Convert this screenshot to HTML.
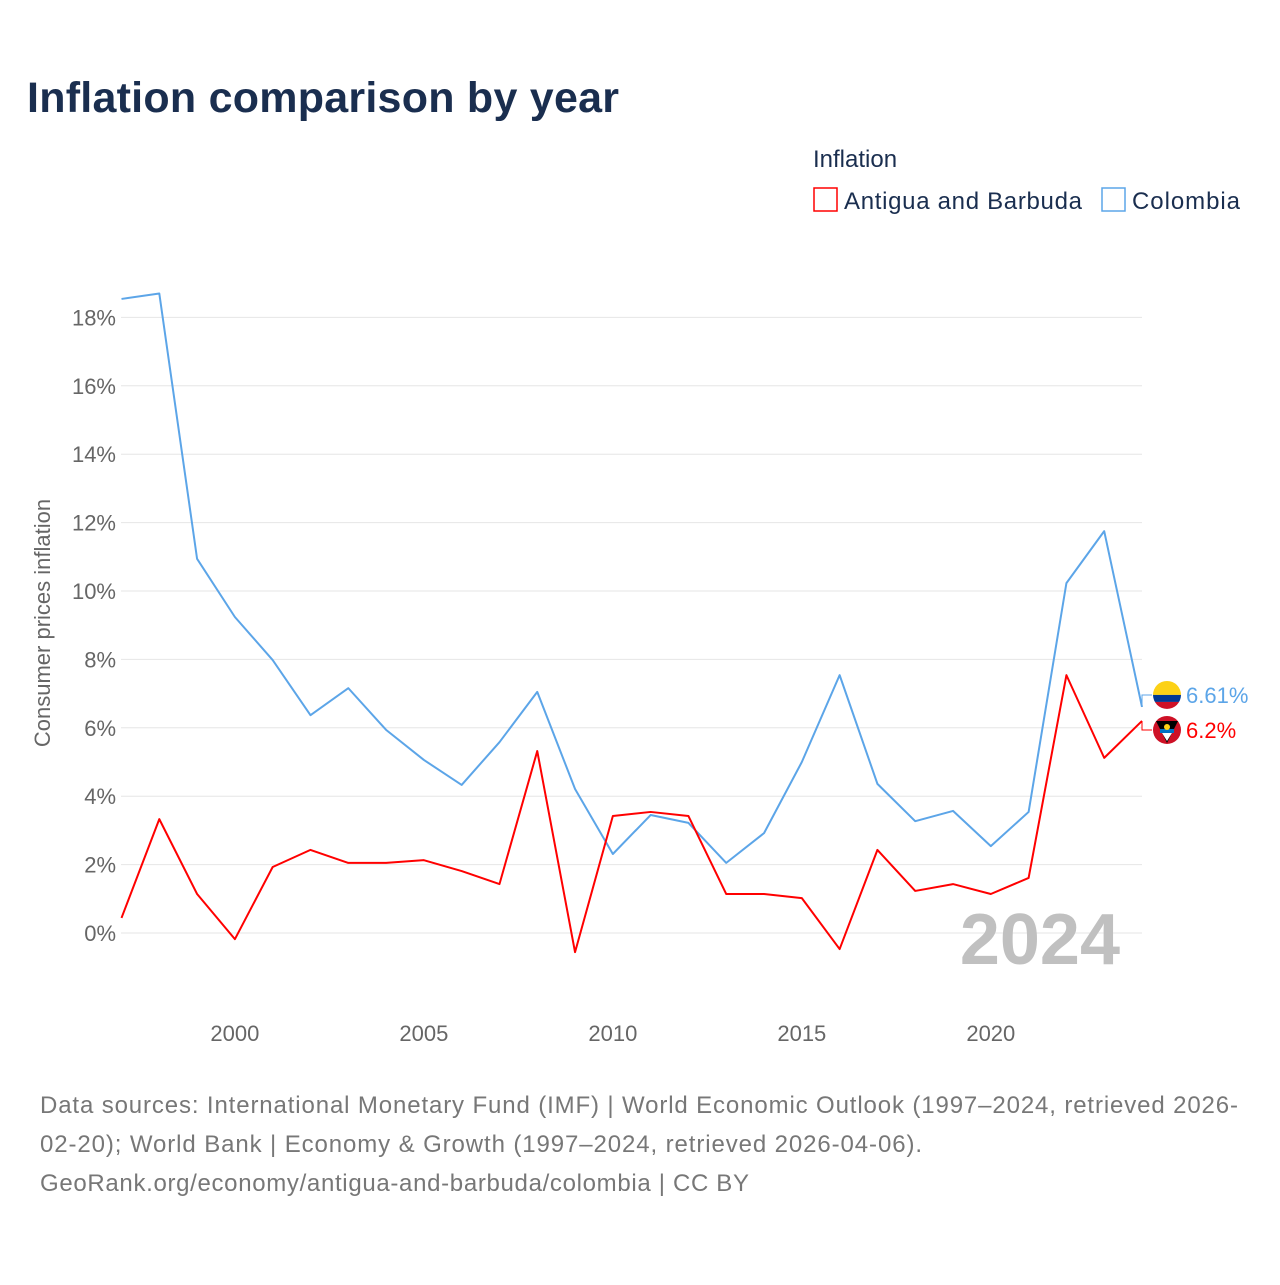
<!DOCTYPE html>
<html><head><meta charset="utf-8"><style>
body{margin:0;background:#fff;font-family:"Liberation Sans",sans-serif}
svg text{font-family:"Liberation Sans",sans-serif}
</style></head><body>
<svg id="chart" width="1280" height="1280" viewBox="0 0 1280 1280">
<text x="27" y="112" font-size="43" font-weight="bold" fill="#1a2e4f" textLength="592">Inflation comparison by year</text>
<text x="813" y="167" font-size="24" fill="#1a2e4f">Inflation</text>
<g><rect x="814" y="188" width="23" height="23" fill="none" stroke="#f00" stroke-width="1.5"/><text x="844" y="209" font-size="24" fill="#1a2e4f" textLength="238">Antigua and Barbuda</text></g>
<g><rect x="1102" y="188" width="23" height="23" fill="none" stroke="#5ca5e8" stroke-width="1.5"/><text x="1132" y="209" font-size="24" fill="#1a2e4f" textLength="108">Colombia</text></g>
<text transform="translate(50,623) rotate(-90)" text-anchor="middle" font-size="22" fill="#666">Consumer prices inflation</text>
<g id="grid"></g><g id="yt"></g><g id="xt"></g>
<text x="1120" y="964" text-anchor="end" font-size="72" font-weight="bold" fill="#c0c0c0">2024</text>
<g id="series"></g>
<text x="40" y="1113" font-size="24" fill="#777" textLength="1198">Data sources: International Monetary Fund (IMF) | World Economic Outlook (1997–2024, retrieved 2026-</text>
<text x="40" y="1152" font-size="24" fill="#777" textLength="882">02-20); World Bank | Economy &amp; Growth (1997–2024, retrieved 2026-04-06).</text>
<text x="40" y="1191" font-size="24" fill="#777" textLength="709">GeoRank.org/economy/antigua-and-barbuda/colombia | CC BY</text>
</svg>
<script>
const years=[1997,1998,1999,2000,2001,2002,2003,2004,2005,2006,2007,2008,2009,2010,2011,2012,2013,2014,2015,2016,2017,2018,2019,2020,2021,2022,2023,2024];
const colombia=[18.54,18.7,10.94,9.24,7.98,6.37,7.16,5.94,5.06,4.33,5.58,7.05,4.21,2.31,3.45,3.22,2.05,2.92,5.0,7.54,4.36,3.27,3.57,2.54,3.54,10.23,11.75,6.61];
const antigua=[0.44,3.33,1.14,-0.18,1.93,2.43,2.05,2.05,2.13,1.81,1.43,5.32,-0.56,3.42,3.54,3.42,1.14,1.14,1.02,-0.47,2.43,1.23,1.43,1.14,1.61,7.54,5.12,6.2];
const yTicks=[0,2,4,6,8,10,12,14,16,18];
const xTicks=[2000,2005,2010,2015,2020];
const NS='http://www.w3.org/2000/svg';
const X=y=>121.5+(y-1997)*(1142-121.5)/27;
const Y=v=>933-v*34.2;
function mk(t,a,p){const e=document.createElementNS(NS,t);for(const k in a)e.setAttribute(k,a[k]);p.appendChild(e);return e;}
const grid=document.getElementById('grid'),yt=document.getElementById('yt'),xt=document.getElementById('xt'),ser=document.getElementById('series');
yTicks.forEach(v=>{
 const l=mk('line',{x1:121,x2:1142,y1:Y(v),y2:Y(v),stroke:'#e6e6e6','stroke-width':1},grid);
 
 
 const t=mk('text',{x:116,y:Y(v)+8,'text-anchor':'end','font-size':22,fill:'#666'},yt);
 t.textContent=v+'%';
 
 
});
xTicks.forEach(v=>{
 const t=mk('text',{x:X(v),y:1041,'text-anchor':'middle','font-size':22,fill:'#666'},xt);
 t.textContent=v;
 
 
});
function line(vals,color,name){
 const p=mk('polyline',{points:vals.map((v,i)=>X(years[i])+','+Y(v)).join(' '),fill:'none',stroke:color,'stroke-width':2,'stroke-linejoin':'round'},ser);
 
 
}
line(colombia,'#5ca5e8','colombia-line');
line(antigua,'#f00','antigua-line');
const lc=colombia[colombia.length-1],la=antigua[antigua.length-1];
const yc=Y(lc)-12,ya=Y(la)+9;
mk('polyline',{points:`1142,${Y(lc)} 1142,${yc} 1152,${yc}`,fill:'none',stroke:'#5ca5e8','stroke-width':1},ser);
mk('polyline',{points:`1142,${Y(la)} 1142,${ya} 1152,${ya}`,fill:'none',stroke:'#f00','stroke-width':1},ser);
const fc=mk('g',{},ser);


mk('clipPath',{id:'cc'},fc).appendChild(document.createElementNS(NS,'circle')).setAttribute('r',14);
const gc=mk('g',{transform:`translate(1167,${yc})`,'clip-path':'url(#cc)'},fc);
mk('rect',{x:-14,y:-14,width:28,height:14,fill:'#fcd116'},gc);
mk('rect',{x:-14,y:0,width:28,height:7,fill:'#003893'},gc);
mk('rect',{x:-14,y:7,width:28,height:7,fill:'#ce1126'},gc);
const fa=mk('g',{},ser);


const ga=mk('g',{transform:`translate(1167,${ya})`},fa);
mk('circle',{r:14,fill:'#ce1126'},ga);
mk('polygon',{points:'-11,-9 11,-9 0,13',fill:'#000'},ga);
mk('rect',{x:-7,y:-1,width:14,height:4,fill:'#0072c6'},ga);
mk('polygon',{points:'-5,3 5,3 0,11',fill:'#fff'},ga);
mk('circle',{r:3,cy:-3,fill:'#fcd116'},ga);
const tc=mk('text',{x:1186,y:yc+8,'font-size':22,fill:'#5ca5e8'},ser);
tc.textContent=lc+'%';


const ta=mk('text',{x:1186,y:ya+8,'font-size':22,fill:'#f00'},ser);
ta.textContent=la+'%';


</script>
</body></html>
